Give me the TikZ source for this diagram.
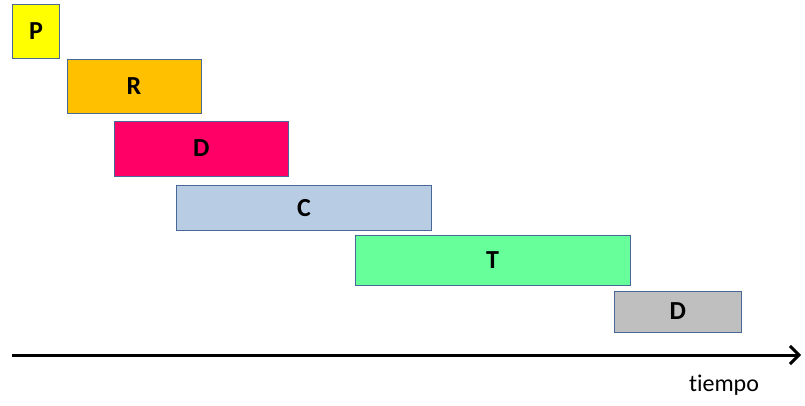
\documentclass[tikz,border=0pt]{standalone}
\usepackage{fontspec}
\setmainfont{Carlito}[Ligatures=NoCommon]
\usetikzlibrary{arrows.meta}
\definecolor{bord}{RGB}{72,104,150}
\definecolor{cP}{RGB}{255,255,0}
\definecolor{cR}{RGB}{255,192,0}
\definecolor{cD}{RGB}{255,0,102}
\definecolor{cC}{RGB}{184,204,228}
\definecolor{cT}{RGB}{102,255,153}
\definecolor{cG}{RGB}{191,191,191}
\begin{document}
\begin{tikzpicture}[x=1pt,y=-1pt,
  phase/.style={draw=bord,line width=1pt,inner sep=0pt,rectangle,
    font=\fontsize{26}{28}\selectfont\bfseries,text=black}]
\useasboundingbox (0,0) rectangle (805,405);
\node[phase,fill=cP,minimum width=47pt,minimum height=54pt] (p) at (36,31) {P};
\node[phase,fill=cR,minimum width=134pt,minimum height=54pt] (r) at (134,86) {R};
\node[phase,fill=cD,minimum width=174.5pt,minimum height=55pt] (d) at (201.25,148.5) {D};
\node[phase,fill=cC,minimum width=255pt,minimum height=45.5pt] (c) at (304,207.75) {C};
\node[phase,fill=cT,minimum width=275pt,minimum height=50pt] (t) at (492.5,260) {T};
\node[phase,fill=cG,minimum width=127.5pt,minimum height=41pt] (g) at (677.75,311.5) {D};
\coordinate (a0) at (12,355);
\coordinate (a1) at (801,355);
\draw[line width=3pt,-{Straight Barb[length=9pt,width=18pt,line width=3pt]}] (a0) -- (a1);
\node[font=\fontsize{24}{26}\selectfont] (lab) at (724,385) {tiempo};
\end{tikzpicture}
\end{document}
